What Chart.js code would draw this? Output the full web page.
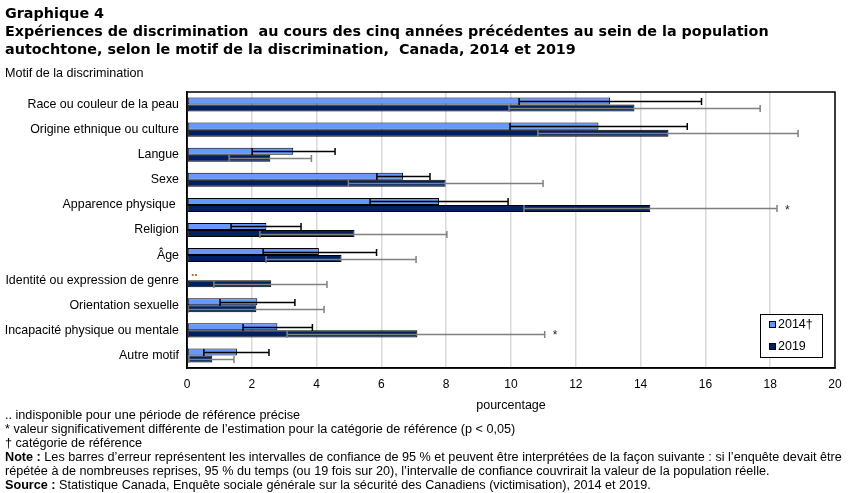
<!DOCTYPE html>
<html><head><meta charset="utf-8">
<script src="https://cdn.jsdelivr.net/npm/chart.js@4"></script>
<style>
html,body{margin:0;padding:0;background:#fff;}
#wrap{position:relative;width:851px;height:493px;overflow:hidden;font-family:"Liberation Sans",Arial,sans-serif;color:#000;}
canvas{position:absolute;left:0;top:0;}
.t{position:absolute;left:5px;white-space:nowrap;}
#title{top:4px;font-family:"DejaVu Sans",Verdana,sans-serif;font-weight:bold;font-size:14.35px;line-height:18px;}
#ylab{top:66px;font-size:12.6px;}
#notes{top:409px;font-size:12.65px;line-height:13.9px;}
</style></head>
<body><div id="wrap">
<canvas id="c" width="851" height="493"></canvas>
<div class="t" id="title">Graphique 4<br>Expériences de discrimination&nbsp; au cours des cinq années précédentes au sein de la population<br>autochtone, selon le motif de la discrimination,&nbsp; Canada, 2014 et 2019</div>
<div class="t" id="ylab">Motif de la discrimination</div>
<div class="t" id="notes">.. indisponible pour une période de référence précise<br>* valeur significativement différente de l’estimation pour la catégorie de référence (p &lt; 0,05)<br>† catégorie de référence<br><b>Note :</b> Les barres d’erreur représentent les intervalles de confiance de 95 % et peuvent être interprétées de la façon suivante : si l’enquête devait être<br>répétée à de nombreuses reprises, 95 % du temps (ou 19 fois sur 20), l’intervalle de confiance couvrirait la valeur de la population réelle.<br><b>Source :</b> Statistique Canada, Enquête sociale générale sur la sécurité des Canadiens (victimisation), 2014 et 2019.</div>
</div>
<script>
const categories = ["Race ou couleur de la peau","Origine ethnique ou culture","Langue","Sexe","Apparence physique ","Religion","Âge","Identité ou expression de genre","Orientation sexuelle","Incapacité physique ou mentale","Autre motif"];
const values2014 = [13.06,12.70,3.28,6.67,7.78,2.45,4.07,null,2.17,2.79,1.54];
const low2014    = [10.25,9.97,2.01,5.86,5.65,1.36,2.35,null,1.02,1.73,0.52];
const high2014   = [15.88,15.44,4.57,7.50,9.91,3.52,5.85,null,3.33,3.87,2.53];
const values2019 = [13.81,14.86,2.57,7.98,14.30,5.17,4.77,2.60,2.14,7.11,0.78];
const low2019    = [9.94,10.83,1.30,4.98,10.40,2.25,2.44,0.83,0.03,3.09,0.06];
const high2019   = [17.69,18.86,3.84,10.99,18.21,8.02,7.07,4.32,4.23,11.04,1.45];
const signif2019 = [false,false,false,false,true,false,false,false,false,true,false];
const unavailable2014 = [false,false,false,false,false,false,false,true,false,false,false];
const xTicks = [0,2,4,6,8,10,12,14,16,18,20];
const seriesNames = ["2014†","2019"];
const FONT = '"Liberation Sans", Arial, sans-serif';

const errPlugin = {
  id:'err',
  afterDatasetsDraw(chart){
    const ctx = chart.ctx, xs = chart.scales.x;
    const sets = [[low2014,high2014,'#000'],[low2019,high2019,'#808080']];
    sets.forEach((s,di)=>{
      const meta = chart.getDatasetMeta(di);
      meta.data.forEach((el,j)=>{
        if(s[0][j]==null) return;
        const y = Math.round(el.y)+0.5, h = el.height;
        const x1 = xs.getPixelForValue(s[0][j]), x2 = xs.getPixelForValue(s[1][j]);
        ctx.save(); ctx.strokeStyle = s[2]; ctx.lineWidth = 1.5;
        ctx.beginPath(); ctx.moveTo(x1,y); ctx.lineTo(x2,y);
        ctx.moveTo(x1,y-h/2); ctx.lineTo(x1,y+h/2);
        ctx.moveTo(x2,y-h/2); ctx.lineTo(x2,y+h/2);
        ctx.stroke(); ctx.restore();
      });
    });
    const m2 = chart.getDatasetMeta(1);
    ctx.save(); ctx.fillStyle='#1a1a4a'; ctx.font='12px '+FONT; ctx.textAlign='left'; ctx.textBaseline='middle';
    m2.data.forEach((el,j)=>{ if(signif2019[j]){ ctx.fillText('*', xs.getPixelForValue(high2019[j])+8, el.y+2); } });
    ctx.restore();
    ctx.save(); ctx.font='bold 12px '+FONT; ctx.fillStyle='#c06000'; ctx.textBaseline='middle';
    m2.data.forEach((el,j)=>{ if(unavailable2014[j]){ ctx.fillText('..', xs.getPixelForValue(0)+4, el.y-11); } });
    ctx.restore();
    const a = chart.chartArea;
    ctx.save(); ctx.strokeStyle='#000'; ctx.lineWidth=1.5;
    ctx.strokeRect(a.left, a.top, a.right-a.left, a.bottom-a.top);
    ctx.restore();
    const lx=760, ly=314, lw=62, lh=43;
    ctx.save(); ctx.fillStyle='#fff'; ctx.fillRect(lx,ly,lw,lh);
    ctx.strokeStyle='#000'; ctx.lineWidth=1; ctx.strokeRect(lx+0.5,ly+0.5,lw,lh);
    const cols=['#6699ff','#002060'];
    seriesNames.forEach((n,i)=>{
      const yy = ly+11+i*22;
      ctx.fillStyle=cols[i]; ctx.fillRect(lx+9.5,yy-3.5,6,6);
      ctx.strokeStyle='#000'; ctx.strokeRect(lx+9.5,yy-3.5,6,6);
      ctx.fillStyle='#000'; ctx.font='12.5px '+FONT; ctx.textBaseline='middle'; ctx.textAlign='left';
      ctx.fillText(n, lx+18, yy);
    });
    ctx.restore();
  }
};

new Chart(document.getElementById('c'),{
  type:'bar',
  data:{labels:categories,datasets:[
    {label:seriesNames[0],data:values2014,backgroundColor:'#6699ff',borderColor:'#000',borderWidth:1,borderSkipped:false,categoryPercentage:0.56,barPercentage:1},
    {label:seriesNames[1],data:values2019,backgroundColor:'#002060',borderColor:'#000',borderWidth:1,borderSkipped:false,categoryPercentage:0.56,barPercentage:1}
  ]},
  options:{
    indexAxis:'y',responsive:false,animation:false,
    layout:{padding:{top:92,right:16,bottom:80,left:0}},
    plugins:{legend:{display:false},tooltip:{enabled:false}},
    scales:{
      x:{min:0,max:20,afterBuildTicks(s){s.ticks=xTicks.map(v=>({value:v}));},
        afterFit(s){s.height=45;},
        grid:{color:'#d9d9d9',lineWidth:1.5,drawTicks:false},
        border:{color:'#000',width:1.5},
        ticks:{color:'#000',font:{family:FONT,size:12},padding:9},
        title:{display:true,text:'pourcentage',color:'#000',font:{family:FONT,size:12.5},padding:{top:4,bottom:0}}},
      y:{afterFit(s){s.width=187;},
        grid:{display:false,drawTicks:false},
        border:{color:'#000',width:1.5},
        ticks:{color:'#000',font:{family:FONT,size:12.4},padding:8}}
    }
  },
  plugins:[errPlugin]
});
</script>
</body></html>
